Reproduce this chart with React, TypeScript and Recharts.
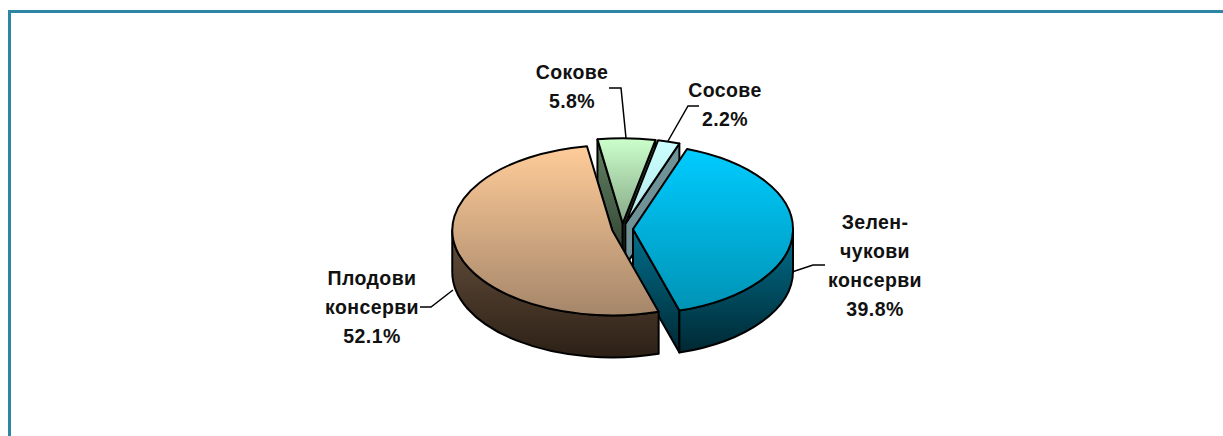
import React from "react";
import { PieChart, Pie } from "recharts";

const CATEGORIES = ["Сокове", "Сосове", "Зеленчукови консерви", "Плодови консерви"];
const VALUES = [5.8, 2.2, 39.8, 52.1];
const LABEL_LINES = [["Сокове"], ["Сосове"], ["Зелен-", "чукови", "консерви"], ["Плодови", "консерви"]];

const TOP_COLORS = [
  ["#CCFFCC", "#86A886"],
  ["#CCFFFF", "#B4E6E6"],
  ["#00CCFF", "#0093B5"],
  ["#FFCC99", "#A5866A"],
];
const WALL_COLORS = [
  ["#628264", "#2E3E2E"],
  ["#6F9296", "#6F9296"],
  ["#00708E", "#002833"],
  ["#66503C", "#2C2016"],
];

const data = CATEGORIES.map((name, i) => ({ name, value: VALUES[i] }));

// the disc is squashed into an ellipse and every slice pulled out along its middle angle
const SQUASH = 0.532;
const DEPTH = 42;
const EXPLODE = 10.5;
const RAD = Math.PI / 180;

// where each label block sits and the leader line that runs to its slice
const LABEL_BOX = [
  { x: 572, y: 79, leader: "M609 88 L621 88 L626 138" },
  { x: 725, y: 97, leader: "M699 106 L688 106 L668 141" },
  { x: 875, y: 229, leader: "M792 272 L813 265 L825 265" },
  { x: 372, y: 285, leader: "M453 290 L431 307 L420 307" },
];

function Slice3D(props: any) {
  const { cx, cy, outerRadius, startAngle, endAngle, midAngle, index } = props;
  const rx = outerRadius;
  const ry = outerRadius * SQUASH;
  const ax = cx + EXPLODE * Math.cos(midAngle * RAD);
  const ay = cy - EXPLODE * SQUASH * Math.sin(midAngle * RAD);
  const rim = (deg: number, drop = 0) =>
    `${ax + rx * Math.cos(deg * RAD)} ${ay - ry * Math.sin(deg * RAD) + drop}`;
  const large = startAngle - endAngle > 180 ? 1 : 0;
  const stroke = { stroke: "#000", strokeWidth: 2, strokeLinejoin: "round" as const };

  // rim wall only exists on the near half of the ellipse
  const wallFrom = Math.min(startAngle, 0);
  const wallTo = Math.max(endAngle, -180);

  const cut = (deg: number) =>
    `M${ax} ${ay} L${rim(deg)} L${rim(deg, DEPTH)} L${ax} ${ay + DEPTH} Z`;

  return (
    <g>
      {Math.cos(startAngle * RAD) < 0 && <path d={cut(startAngle)} fill={`url(#wall${index})`} {...stroke} />}
      {Math.cos(endAngle * RAD) > 0 && <path d={cut(endAngle)} fill={`url(#wall${index})`} {...stroke} />}
      {wallFrom > wallTo && (
        <path
          d={`M${rim(wallFrom)} A${rx} ${ry} 0 0 1 ${rim(wallTo)} L${rim(wallTo, DEPTH)} A${rx} ${ry} 0 0 0 ${rim(wallFrom, DEPTH)} Z`}
          fill={`url(#wall${index})`}
          {...stroke}
        />
      )}
      <path
        d={`M${ax} ${ay} L${rim(startAngle)} A${rx} ${ry} 0 ${large} 1 ${rim(endAngle)} Z`}
        fill={`url(#top${index})`}
        {...stroke}
      />
    </g>
  );
}

function SliceLabel(props: any) {
  const { index, value } = props;
  const box = LABEL_BOX[index];
  const lines = [...LABEL_LINES[index], `${value.toFixed(1)}%`];
  return (
    <g>
      <path d={box.leader} fill="none" stroke="#000" strokeWidth={1.5} />
      <text
        x={box.x}
        y={box.y}
        textAnchor="middle"
        fontFamily="'Liberation Sans', Arial, sans-serif"
        fontWeight="bold"
        fontSize={19.5}
        letterSpacing={0.4}
        fill="#111"
      >
        {lines.map((line, i) => (
          <tspan key={line} x={box.x} dy={i === 0 ? 0 : 29}>
            {line}
          </tspan>
        ))}
      </text>
    </g>
  );
}

export default function App() {
  return (
    <div style={{ position: "absolute", left: 0, top: 0, width: 1223, height: 436, background: "#fff", overflow: "hidden" }}>
      <div
        style={{
          position: "absolute",
          left: 8,
          top: 10,
          width: 1215,
          height: 426,
          boxSizing: "border-box",
          borderTop: "3px solid #2E86A5",
          borderLeft: "3px solid #2E86A5",
        }}
      />
      <div style={{ position: "absolute", left: 0, top: 0 }}>
        <PieChart width={1223} height={436} margin={{ top: 0, right: 0, bottom: 0, left: 0 }}>
          <defs>
            {TOP_COLORS.map((c, i) => (
              <linearGradient key={i} id={`top${i}`} x1="0" y1="0" x2="0" y2="1">
                <stop offset="0%" stopColor={c[0]} />
                <stop offset="100%" stopColor={c[1]} />
              </linearGradient>
            ))}
            {WALL_COLORS.map((c, i) => (
              <linearGradient key={i} id={`wall${i}`} x1="0" y1="0" x2="0" y2="1">
                <stop offset="0%" stopColor={c[0]} />
                <stop offset="100%" stopColor={c[1]} />
              </linearGradient>
            ))}
          </defs>
          <Pie
            data={data}
            dataKey="value"
            nameKey="name"
            cx={622.5}
            cy={229}
            innerRadius={0}
            outerRadius={160}
            startAngle={99.1}
            endAngle={-260.9}
            paddingAngle={0}
            shape={Slice3D}
            label={SliceLabel}
            labelLine={false}
            isAnimationActive={false}
          />
        </PieChart>
      </div>
    </div>
  );
}
